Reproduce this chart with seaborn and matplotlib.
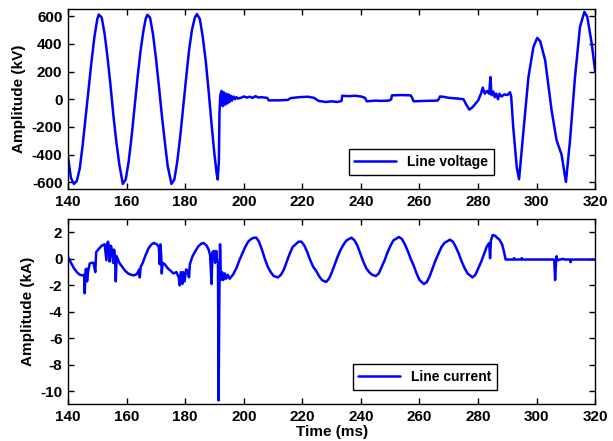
import numpy as np
import pandas as pd
import matplotlib
matplotlib.use('Agg')
import matplotlib.pyplot as plt
import seaborn as sns

# Line voltage (kV)
volt_t = [140.0, 141.0, 142.0, 143.0, 144.0, 145.0, 146.0, 147.0, 148.0, 149.0, 150.0, 150.5,
          151.5, 152.5, 153.5, 154.5, 155.5, 156.5, 157.5, 158.7, 159.7, 160.7, 161.7, 162.7,
          163.7, 164.7, 165.7, 166.5, 167.1, 168.0, 169.0, 170.0, 171.0, 172.0, 173.0, 174.0,
          175.3, 176.3, 177.3, 178.3, 179.3, 180.3, 181.3, 182.3, 183.3, 184.0, 185.0, 186.0,
          187.0, 188.0, 189.0, 190.0, 190.7, 191.1, 191.5, 191.7, 192.0, 192.4, 192.8, 193.2,
          193.6, 194.0, 194.4, 194.8, 195.2, 195.6, 196.0, 196.5, 197.0, 197.5, 198.0, 199.0,
          200.0, 201.0, 202.0, 203.0, 204.0, 205.0, 206.0, 207.0, 208.0, 208.5, 212.0, 215.0,
          216.0, 219.0, 222.0, 224.0, 225.5, 228.0, 230.0, 232.0, 233.4, 233.6, 236.0, 238.0,
          240.0, 241.4, 242.0, 245.0, 247.0, 249.5, 250.3, 250.6, 254.0, 257.0, 257.5, 258.0,
          262.0, 266.0, 266.4, 267.0, 268.0, 270.0, 273.0, 275.0, 276.0, 277.0, 278.0, 280.0,
          281.0, 281.6, 282.3, 283.0, 283.8, 284.2, 284.6, 285.2, 285.7, 286.2, 286.8, 287.3,
          288.0, 289.0, 290.0, 290.9, 291.3, 292.0, 293.2, 294.0, 295.4, 297.2, 298.9, 300.2,
          301.2, 302.9, 305.1, 306.8, 308.5, 310.0, 311.4, 313.1, 314.8, 316.3, 317.3, 318.8,
          320.0]
volt_v = [-420, -570, -612, -590, -500, -330, -130, 70, 270, 450, 580, 612,
          590, 470, 300, 100, -120, -310, -470, -612, -580, -450, -270, -60,
          150, 340, 490, 580, 610, 590, 470, 300, 100, -110, -300, -480,
          -612, -580, -450, -270, -60, 150, 350, 500, 590, 615, 580, 450,
          280, 60, -180, -400, -530, -580, -450, -100, 30, 60, -50, 50,
          -40, 40, -30, 35, -20, 25, -10, 20, 0, 15, 5, 10,
          20, 12, 18, 10, 22, 12, 15, 12, 10, -8, -8, -5,
          8, 15, 18, 10, -12, -20, -15, -20, -12, 25, 22, 25,
          20, 10, -15, -10, -12, -10, -2, 28, 30, 28, 10, -15,
          -12, -10, -5, 20, 18, 10, 5, 0, -40, -75, -60, -10,
          40, 84, 40, 60, 40, 160, 30, 55, 15, 40, 0, 40,
          20, 35, 30, 50, 20, -200, -490, -578, -250, 160, 378, 443,
          420, 282, -80, -296, -400, -598, -296, 161, 523, 631, 595, 402,
          198]

# Line current (kA)
curr_t = [140.0, 141.0, 142.0, 143.0, 144.0, 145.0, 145.5, 145.7, 146.0, 146.3, 146.5, 146.8,
          147.4, 148.0, 148.7, 149.3, 149.6, 150.5, 151.5, 152.5, 153.1, 153.4, 153.7, 154.2,
          154.5, 154.8, 155.4, 155.7, 156.0, 156.3, 156.6, 157.5, 158.5, 159.5, 160.5, 161.5,
          162.5, 163.5, 164.3, 164.5, 164.8, 165.5, 166.5, 167.5, 168.5, 169.3, 170.3, 171.0,
          171.3, 171.5, 171.8, 172.0, 172.3, 173.0, 174.0, 175.0, 176.0, 177.0, 177.8, 178.1,
          178.5, 179.0, 179.3, 179.8, 180.3, 180.8, 181.3, 181.6, 182.5, 183.5, 184.5, 185.5,
          186.3, 187.3, 188.0, 188.5, 189.0, 189.3, 189.8, 190.2, 190.6, 190.9, 191.2, 191.4,
          191.7, 191.9, 192.2, 192.6, 193.0, 193.5, 194.0, 194.5, 195.2, 196.3, 197.5, 198.5,
          199.5, 200.5, 201.5, 202.5, 203.5, 204.3, 205.2, 206.2, 207.2, 208.2, 209.2, 210.2,
          211.7, 212.7, 213.7, 214.7, 215.7, 216.7, 217.7, 218.7, 219.7, 220.7, 221.7, 222.7,
          223.7, 224.7, 225.7, 226.7, 228.1, 229.1, 230.1, 231.1, 232.1, 233.1, 234.1, 235.1,
          236.8, 237.8, 238.8, 239.8, 240.8, 241.8, 242.8, 243.8, 245.1, 246.1, 247.1, 248.1,
          249.1, 250.1, 251.1, 253.0, 254.0, 255.0, 256.0, 257.0, 258.0, 259.0, 260.0, 261.5,
          262.5, 263.5, 264.5, 265.5, 266.5, 267.5, 268.5, 270.4, 271.4, 272.4, 273.4, 274.4,
          275.4, 276.4, 278.1, 279.1, 280.1, 281.1, 282.1, 283.0, 283.8, 284.1, 284.4, 285.0,
          285.8, 286.5, 287.3, 288.2, 288.9, 289.4, 292.0, 292.3, 292.6, 294.6, 294.9, 295.2,
          306.0, 306.3, 306.6, 306.8, 307.1, 308.0, 309.0, 309.5, 311.4, 311.6, 311.9, 320.0]
curr_i = [0.15, -0.3, -0.7, -1.0, -1.2, -1.25, -1.2, -2.6, -0.8, -0.75, -1.7, -1.0,
          -0.35, -0.3, -0.3, -1.0, 0.5, 0.75, 1.0, 1.1, -0.1, 1.2, 1.3, -0.2,
          1.0, 0.9, -0.3, 0.7, 0.3, -1.7, 0.2, -0.3, -0.6, -0.9, -1.1, -1.2,
          -1.25, -1.15, -0.8, -1.4, -0.6, -0.3, 0.3, 0.8, 1.1, 1.2, 1.1, 0.9,
          -0.4, 1.1, 0.3, -1.1, -0.3, -0.4, -0.7, -0.9, -1.1, -1.0, -1.4, -2.0,
          -1.0, -1.9, -1.0, -1.7, -0.8, -0.9, -1.4, -0.4, 0.2, 0.6, 0.95, 1.15,
          1.2, 1.0, 0.7, 0.3, -1.9, 0.5, 0.6, -0.3, 0.6, -0.2, -0.3, -10.7,
          -2.0, 1.1, -1.6, -1.0, -1.6, -1.1, -1.5, -1.2, -1.5, -1.2, -0.7, -0.1,
          0.4, 0.9, 1.3, 1.5, 1.6, 1.6, 1.3, 0.7, 0.0, -0.6, -1.0, -1.3,
          -1.4, -1.2, -0.8, -0.2, 0.4, 0.9, 1.1, 1.3, 1.3, 1.0, 0.5, -0.1,
          -0.6, -0.9, -1.3, -1.6, -1.75, -1.5, -1.0, -0.4, 0.2, 0.7, 1.1, 1.4,
          1.6, 1.4, 1.0, 0.4, -0.2, -0.7, -1.0, -1.2, -1.3, -1.1, -0.6, -0.1,
          0.5, 1.0, 1.4, 1.65, 1.5, 1.1, 0.6, 0.0, -0.5, -1.1, -1.6, -1.9,
          -1.75, -1.3, -0.7, -0.1, 0.4, 0.9, 1.2, 1.45, 1.3, 0.9, 0.4, -0.2,
          -0.7, -1.1, -1.4, -1.2, -0.7, -0.2, 0.4, 0.95, 1.2, 0.05, 1.4, 1.8,
          1.75, 1.6, 1.45, 1.1, 0.5, -0.05, -0.05, 0.05, -0.05, -0.05, 0.05, -0.05,
          -0.05, -1.6, -0.3, 0.2, -0.1, -0.05, 0.0, -0.05, -0.05, -0.25, -0.05, -0.05]

x_ticks = list(range(140, 321, 20))
volt_ticks = list(range(-600, 601, 200))
curr_ticks = list(range(-10, 3, 2))

sns.set_style('ticks')
plt.rcParams['font.family'] = ['Liberation Sans', 'DejaVu Sans']
plt.rcParams['font.weight'] = 'bold'
plt.rcParams['axes.labelweight'] = 'bold'
plt.rcParams['axes.labelcolor'] = 'black'
plt.rcParams['text.color'] = 'black'
plt.rcParams['axes.unicode_minus'] = False

fig = plt.figure(figsize=(6.13, 4.41), dpi=100)
ax1 = fig.add_axes([0.111, 0.571, 0.860, 0.408])
ax2 = fig.add_axes([0.111, 0.083, 0.860, 0.420])

volt_df = pd.DataFrame({'t': volt_t, 'v': volt_v})
curr_df = pd.DataFrame({'t': curr_t, 'i': curr_i})

sns.lineplot(data=volt_df, x='t', y='v', ax=ax1, color='#0000ff', linewidth=1.8,
             estimator=None, sort=False, label='Line voltage')
sns.lineplot(data=curr_df, x='t', y='i', ax=ax2, color='#0000ff', linewidth=1.8,
             estimator=None, sort=False, label='Line current')

ax1.set_ylim(-650, 650)
ax1.set_yticks(volt_ticks)
ax1.set_ylabel('Amplitude (kV)', fontsize=11, fontweight='bold', color='black')
ax1.set_xlabel('')

ax2.set_ylim(-11, 3)
ax2.set_yticks(curr_ticks)
ax2.set_ylabel('Amplitude (kA)', fontsize=11, fontweight='bold', color='black')
ax2.set_xlabel('Time (ms)', fontsize=11, fontweight='bold', color='black', labelpad=1)

for ax in (ax1, ax2):
    ax.set_xlim(140, 320)
    ax.set_xticks(x_ticks)
    ax.tick_params(direction='in', top=True, right=True, length=4, width=1,
                   labelsize=11, colors='black', pad=4)
    for lab in ax.get_xticklabels() + ax.get_yticklabels():
        lab.set_fontweight('bold')
    for sp in ax.spines.values():
        sp.set_color('black')
        sp.set_linewidth(1)

leg1 = ax1.legend(loc='center', bbox_to_anchor=(0.670, 0.151), fancybox=False,
                  edgecolor='black', framealpha=1, handlelength=3.0,
                  prop={'weight': 'bold', 'size': 10})
leg2 = ax2.legend(loc='center', bbox_to_anchor=(0.677, 0.148), fancybox=False,
                  edgecolor='black', framealpha=1, handlelength=3.0,
                  prop={'weight': 'bold', 'size': 10})
for leg in (leg1, leg2):
    leg.get_frame().set_linewidth(1)

fig.savefig('out.png', dpi=100)
